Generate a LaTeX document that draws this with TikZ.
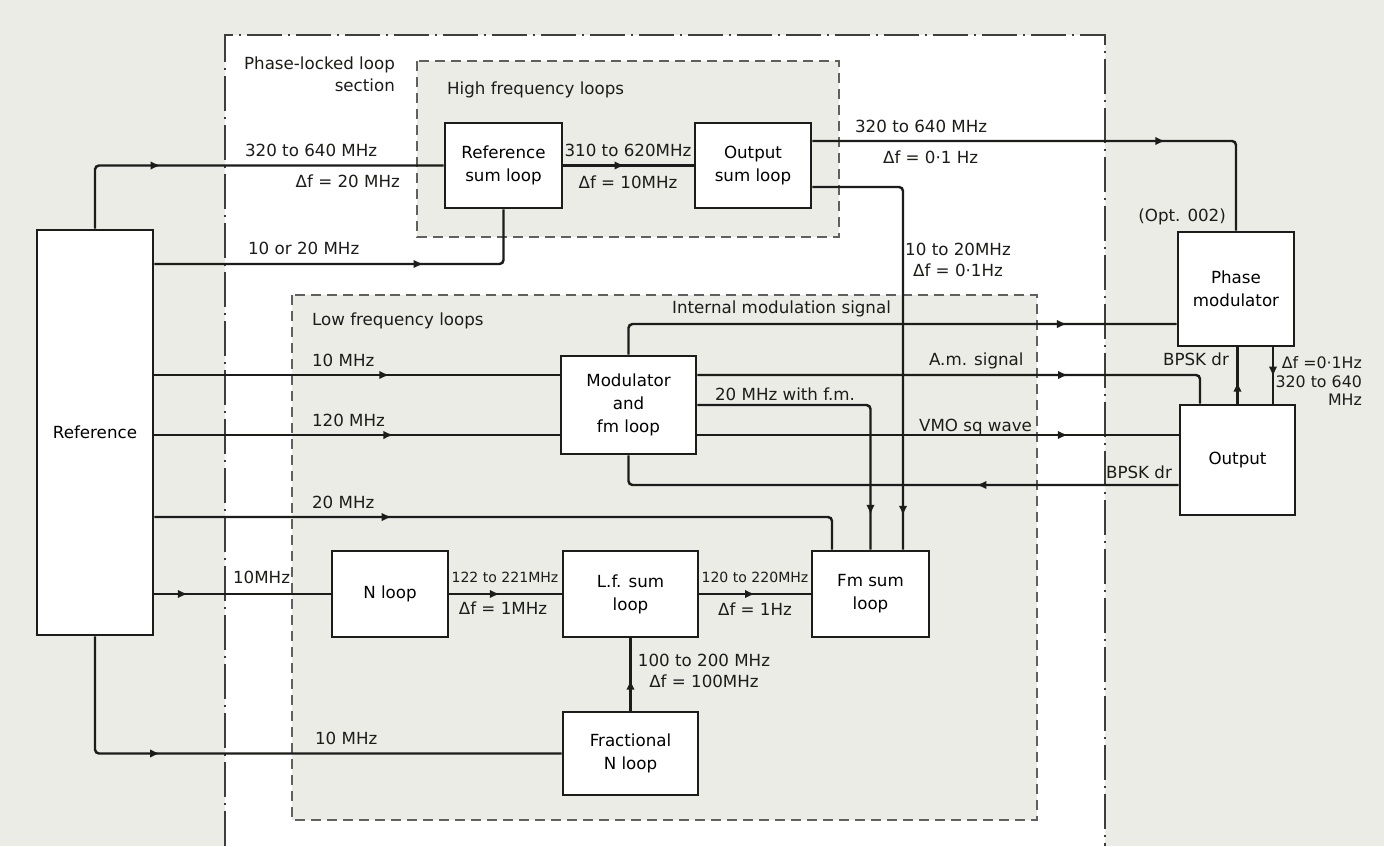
\documentclass[tikz,border=0pt]{standalone}
\usepackage{fontspec}
\setmainfont{DejaVu Sans}
\usetikzlibrary{positioning,arrows.meta,decorations.markings}
\definecolor{paper}{RGB}{236,236,231}
\definecolor{ink}{RGB}{28,28,26}

\begin{document}
\begin{tikzpicture}[
x=0.02cm, y=-0.02cm,
font=\fontsize{9.5}{12}\selectfont,
blk/.style={draw=ink, line width=1.6pt, fill=white, align=center, inner sep=1pt, font=\fontsize{9.5}{13}\selectfont},
sig/.style={draw=ink, line width=1.4pt, rounded corners=0.8mm},
flow/.style={postaction={decorate}, decoration={markings, mark=at position #1 with {\arrow{Latex[length=2mm,width=1.7mm]}}}},
pllframe/.style={draw=ink!85, line width=0.9pt, dash pattern=on 7mm off 1.2mm on 0.4mm off 1.2mm},
loopbox/.style={draw=ink!70, line width=0.8pt, dash pattern=on 2mm off 1.2mm, fill=paper},
lbl/.style={inner sep=1pt, text=ink},
tight/.style={lbl, font=\fontsize{8}{10}\selectfont}
]
% page and section outlines
\fill[paper] (0,0) rectangle (1384,846);
\useasboundingbox (0,0) rectangle (1384,846);
\fill[white] (225,35) rectangle (1105,846);
\draw[pllframe] (225,846) -- (225,35) -- (1105,35) -- (1105,846);
\draw[loopbox] (417,61) rectangle (839,237);
\draw[loopbox] (292,295) rectangle (1037,820);

\node[lbl, align=right, anchor=east, font=\fontsize{9.5}{12.5}\selectfont] (pllname) at (397,74) {Phase-locked loop\\section};
\node[lbl, anchor=west] (hfname) at (445,90) {High frequency loops};
\node[lbl, anchor=west] (lfname) at (310,321) {Low frequency loops};

% blocks
\node[blk, minimum width=2.32cm, minimum height=8.1cm] (ref) at (95,432.5) {Reference};
\node[blk, minimum width=2.34cm, minimum height=1.7cm] (refsum) at (503.5,165.5) {Reference\\sum loop};
\node[blk, minimum width=2.32cm, minimum height=1.7cm] (outsum) at (753,165.5) {Output\\sum loop};
\node[blk, minimum width=2.32cm, minimum height=2.28cm] (phmod) at (1236,289) {Phase\\modulator};
\node[blk, minimum width=2.3cm, minimum height=2.2cm] (out) at (1237.5,460) {Output};
\node[blk, minimum width=2.7cm, minimum height=1.96cm] (mod) at (628.5,405) {Modulator\\and\\fm loop};
\node[blk, minimum width=2.32cm, minimum height=1.72cm] (nloop) at (390,594) {N loop};
\node[blk, minimum width=2.7cm, minimum height=1.72cm] (lfsum) at (630.5,594) {L.f. sum\\loop};
\node[blk, minimum width=2.34cm, minimum height=1.72cm] (fmsum) at (870.5,594) {Fm sum\\loop};
\node[blk, minimum width=2.7cm, minimum height=1.66cm] (fracn) at (630.5,753.5) {Fractional\\N loop};

% rows and columns of the signal lines
\coordinate (yhi) at (0,141);
\coordinate (ylo) at (0,187);
\coordinate (yref) at (0,264);
\coordinate (yim) at (0,324);
\coordinate (ytop) at (0,375);
\coordinate (ymid) at (0,435);
\coordinate (ybpsk) at (0,485);
\coordinate (y20) at (0,517);
\coordinate (xam) at (1200,0);
\coordinate (x20) at (832,0);
\coordinate (xsum) at (903,0);
\coordinate (xrf) at (1273,0);

% signals
\draw[sig, flow=0.31] (ref.north) |- (refsum.west);
\draw[sig, flow=0.47] (refsum.east) -- (outsum.west);
\draw[sig, flow=0.69] (outsum.east |- yhi) -| (phmod.north);
\draw[sig, flow=0.67] (ref.east |- yref) -| (refsum.south);
\draw[sig, flow=0.925] (outsum.east |- ylo) -| (xsum |- fmsum.north);
\draw[sig, flow=0.81] (mod.north) |- (phmod.west |- yim);
\draw[sig, flow=0.58] (ref.east |- ytop) -- (mod.west |- ytop);
\draw[sig, flow=0.70] (mod.east |- ytop) -| (xam |- out.north);
\draw[sig, flow=0.59] (ref.east |- ymid) -- (mod.west |- ymid);
\draw[sig, flow=0.77] (mod.east |- ymid) -- (out.west |- ymid);
\draw[sig, flow=0.89] (mod.east) -| (fmsum.north);
\draw[sig, flow=0.35] (out.west |- ybpsk) -| (mod.south);
\draw[sig, flow=0.335] (ref.east |- y20) -| (x20 |- fmsum.north);
\draw[sig, flow=0.19] (ref.east |- nloop.west) -- (nloop.west);
\draw[sig, flow=0.45] (nloop.east) -- (lfsum.west);
\draw[sig, flow=0.5] (lfsum.east) -- (fmsum.west);
\draw[sig, flow=0.43] (fracn.north) -- (lfsum.south);
\draw[sig, flow=0.31] (ref.south) |- (fracn.west);
\draw[sig, flow=0.39] (out.north) -- (out.north |- phmod.south);
\draw[sig, flow=0.52] (xrf |- phmod.south) -- (xrf |- out.north);

% signal labels
\node[lbl, anchor=west] (frefhi) at (243,150) {320 to 640 MHz};
\node[lbl, anchor=east] (dfrefhi) at (402,181) {Δf = 20 MHz};
\node[lbl, anchor=west] (frefsum) at (246,248) {10 or 20 MHz};
\node[lbl] (fsum) at (628,150) {310 to 620MHz};
\node[lbl] (dfsum) at (628,182) {Δf = 10MHz};
\node[lbl, anchor=west] (fouthi) at (853,126) {320 to 640 MHz};
\node[lbl, anchor=west] (dfouthi) at (881,157) {Δf = 0·1 Hz};
\node[lbl, align=center] (foutlo) at (958,260) {10 to 20MHz\\Δf = 0·1Hz};
\node[lbl, anchor=west] (fint) at (670,309) {Internal modulation signal};
\node[lbl, anchor=west] (ften) at (310,360) {10 MHz};
\node[lbl, anchor=west] (fhund) at (310,420) {120 MHz};
\node[lbl, anchor=west] (ftwenty) at (310,502) {20 MHz};
\node[lbl, anchor=west] (fam) at (927,361) {A.m. signal};
\node[lbl, anchor=west] (ffm) at (713,394) {20 MHz with f.m.};
\node[lbl, anchor=west] (fvmo) at (917,427) {VMO sq wave};
\node[lbl, anchor=east] (fbpsk) at (1174,472) {BPSK dr};
\node[lbl, anchor=east] (fbpskup) at (1231,359) {BPSK dr};
\node[lbl, align=right, anchor=east, font=\fontsize{9}{10.8}\selectfont] (frf) at (1364,381) {Δf =0·1Hz\\320 to 640\\MHz};
\node[lbl, anchor=east] (opt) at (1228,217) {(Opt. 002)};
\node[lbl, anchor=west] (fnin) at (231,577) {10MHz};
\node[tight] (fn) at (505,577) {122 to 221MHz};
\node[lbl] (dfn) at (503,608) {Δf = 1MHz};
\node[tight] (flf) at (755,577) {120 to 220MHz};
\node[lbl] (dflf) at (755,609) {Δf = 1Hz};
\node[lbl, align=center] (ffrac) at (704,671) {100 to 200 MHz\\Δf = 100MHz};
\node[lbl, anchor=west] (ffracin) at (313,738) {10 MHz};
\end{tikzpicture}
\end{document}
